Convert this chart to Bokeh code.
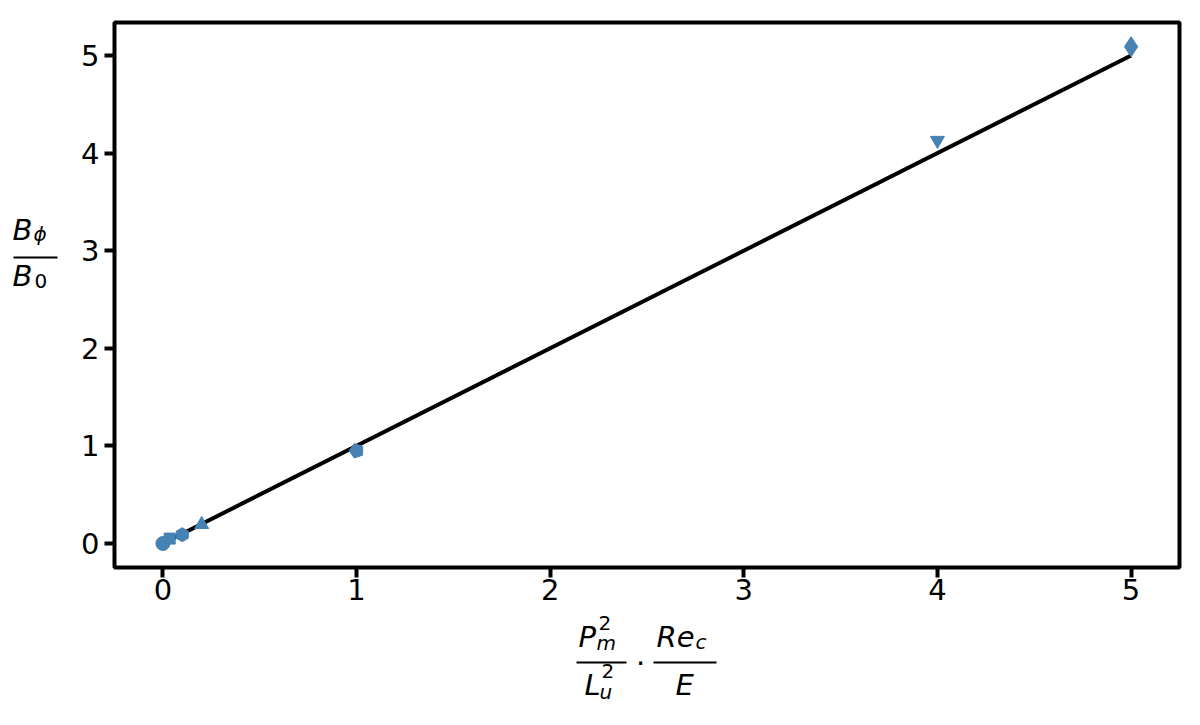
import numpy as np
from bokeh.plotting import figure
from bokeh.layouts import column, row
from bokeh.models import Label, Range1d, FixedTicker, BoxAnnotation
from bokeh.embed import file_html
from bokeh.resources import INLINE

# ---- data ----
markers = ["circle", "square", "hex", "triangle", "pentagon", "inverted_triangle", "diamond"]
x_vals = [0.0, 0.035, 0.1, 0.2, 1.0, 4.0, 5.0]
y_vals = [0.0, 0.05, 0.09, 0.195, 0.95, 4.13, 5.09]
fit_x = [0.0, 5.0]
fit_y = [0.0, 5.0]
ticks = [0, 1, 2, 3, 4, 5]

COLOR = "#4682b4"
FONT = "DejaVu Sans"

X0, X1 = -0.25, 5.25
Y0, Y1 = -0.246, 5.338

# page layout (px)
LW = 70            # width of the strip holding the y label
MAIN_W, MAIN_H = 1122, 612
XL_H = 97          # height of the strip holding the x label
FL, FT = 114, 22   # frame left / top on the page
FW, FH = 1065, 545

p = figure(width=MAIN_W, height=MAIN_H, output_backend="svg", toolbar_location=None,
           x_range=Range1d(X0, X1), y_range=Range1d(Y0, Y1),
           min_border_left=FL - LW, min_border_top=FT,
           min_border_right=MAIN_W - (FL - LW) - FW,
           min_border_bottom=MAIN_H - FT - FH)

p.grid.visible = False
p.outline_line_color = "black"
p.outline_line_width = 4
p.background_fill_color = "white"
p.border_fill_color = "white"

for ax in (p.xaxis[0], p.yaxis[0]):
    ax.ticker = FixedTicker(ticks=ticks)
    ax.axis_line_color = None
    ax.major_tick_out = 10
    ax.major_tick_in = 0
    ax.major_tick_line_width = 4
    ax.major_tick_line_color = "black"
    ax.minor_tick_line_color = None
    ax.major_label_text_font = FONT
    ax.major_label_text_font_size = "29px"
    ax.major_label_text_color = "black"
p.xaxis[0].major_label_standoff = 1
p.yaxis[0].major_label_standoff = 5

# fit line
p.line(fit_x, fit_y, line_color="black", line_width=4)

# markers
for m, xv, yv in zip(markers, x_vals, y_vals):
    if m == "pentagon":
        p.ngon(x=[xv], y=[yv], radius=7.5, n=5, radius_units="screen",
               angle=np.pi / 2, fill_color=COLOR, line_color=COLOR)
    elif m == "hex":
        p.scatter([xv], [yv], marker="hex", size=14, angle=np.pi / 2,
                  fill_color=COLOR, line_color=COLOR)
    elif m == "diamond":
        p.scatter([xv], [yv], marker="diamond", size=20, fill_color=COLOR, line_color=COLOR)
    elif m == "square":
        p.scatter([xv], [yv], marker="square", size=11, fill_color=COLOR, line_color=COLOR)
    else:
        p.scatter([xv], [yv], marker=m, size=14, fill_color=COLOR, line_color=COLOR)


# ---- text strips for the math axis labels ----
def strip(w, h):
    f = figure(width=w, height=h, output_backend="svg", toolbar_location=None,
               x_axis_type=None, y_axis_type=None,
               x_range=Range1d(0, w), y_range=Range1d(0, h),
               min_border=0)
    f.grid.visible = False
    f.outline_line_color = None
    f.background_fill_color = "white"
    f.border_fill_color = "white"
    return f


SHIFT = -12   # bokeh places the alphabetic baseline a little lower than expected


def txt(f, s, px, py, size, italic=True, align="left", base="alphabetic", shift=SHIFT):
    f.add_layout(Label(x=px, y=py + shift, x_units="canvas", y_units="canvas", text=s,
                       text_font=FONT, text_font_size=f"{size}px",
                       text_font_style="italic" if italic else "normal",
                       text_align=align, text_baseline=base, text_color="black"))


def bar(f, px0, px1, py, th=2):
    f.add_layout(BoxAnnotation(left=px0, right=px1, top=py - th / 2, bottom=py + th / 2,
                               left_units="canvas", right_units="canvas",
                               top_units="canvas", bottom_units="canvas",
                               fill_color="black", fill_alpha=1, line_color=None))


BIG, SMALL = 29, 20

# y label: B_phi / B_0  (page coords == strip coords)
yl = strip(LW, MAIN_H)
txt(yl, "B", 12, 241, BIG)
txt(yl, "\u03d5", 33, 245, SMALL)
bar(yl, 13, 57, 257)
txt(yl, "B", 12, 287, BIG)
txt(yl, "0", 34, 292, SMALL, italic=False)

# x label: P_m^2 / L_u^2 . Re_c / E  (strip starts at page y = MAIN_H)
xl = strip(LW + MAIN_W, XL_H)
o = MAIN_H
txt(xl, "P", 578, 648 - o, BIG)
txt(xl, "2", 598, 634 - o, SMALL, italic=False)
txt(xl, "m", 596, 654 - o, SMALL)
bar(xl, 576, 626, 662 - o)
txt(xl, "L", 584, 696 - o, BIG)
txt(xl, "2", 601, 682 - o, SMALL, italic=False)
txt(xl, "u", 599, 703 - o, SMALL)
txt(xl, "\u00b7", 640, 667 - o, BIG, italic=False, align="center", shift=-5)
txt(xl, "Re", 656, 648 - o, BIG)
txt(xl, "c", 695, 653 - o, SMALL)
bar(xl, 653, 716, 662 - o)
txt(xl, "E", 675, 696 - o, BIG)

layout = column(row(yl, p, spacing=0), xl, spacing=0)
open("out.html", "w").write(file_html(layout, INLINE))
